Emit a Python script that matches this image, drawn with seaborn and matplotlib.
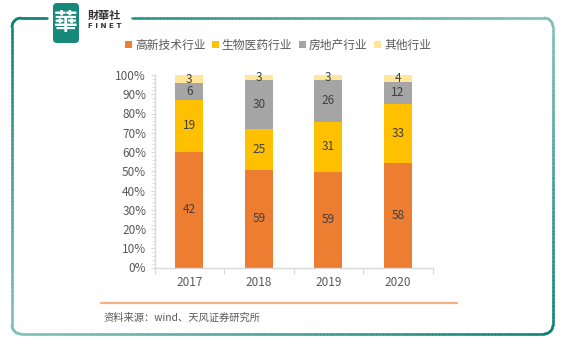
import numpy as np
import pandas as pd
import matplotlib
matplotlib.use("Agg")
import matplotlib.pyplot as plt
import seaborn as sns
from matplotlib.patches import FancyBboxPatch, Patch
from matplotlib.collections import LineCollection
from matplotlib.ticker import MultipleLocator, FuncFormatter

# ---- data -------------------------------------------------------------
years = ["2017", "2018", "2019", "2020"]
industries = ["高新技术行业", "生物医药行业", "房地产行业", "其他行业"]
high_tech = [42, 59, 59, 58]
biomed = [19, 25, 31, 33]
real_estate = [6, 30, 26, 12]
others = [3, 3, 3, 4]
colors = ["#ED7D31", "#FFC000", "#A5A5A5", "#FFE699"]
source_note = "资料来源：wind、天风证券研究所"

counts = pd.DataFrame(
    {name: vals for name, vals in zip(industries, [high_tech, biomed, real_estate, others])},
    index=years,
)
shares = counts.div(counts.sum(axis=1), axis=0) * 100
tops = shares.cumsum(axis=1)
bottoms = tops - shares

# ---- style ------------------------------------------------------------
sns.set_theme(style="white")
plt.rcParams["font.family"] = ["Noto Sans CJK SC", "DejaVu Sans"]
TXT = "#595959"

W, H = 563, 346
fig = plt.figure(figsize=(W / 100, H / 100), dpi=100)
fig.patch.set_facecolor("white")

# pixel-space canvas for the card frame, logo and footer
bg = fig.add_axes([0, 0, 1, 1], zorder=0)
bg.set_xlim(0, W)
bg.set_ylim(H, 0)
bg.axis("off")


def frame_points(x0, y0, x1, y1, r, gap0, gap1):
    pts = []
    pts += [(x, y0) for x in np.linspace(gap1, x1 - r, 120)]
    t = np.linspace(-np.pi / 2, 0, 20)
    pts += list(zip(x1 - r + r * np.cos(t), y0 + r + r * np.sin(t)))
    pts += [(x1, y) for y in np.linspace(y0 + r, y1 - r, 80)]
    t = np.linspace(0, np.pi / 2, 20)
    pts += list(zip(x1 - r + r * np.cos(t), y1 - r + r * np.sin(t)))
    pts += [(x, y1) for x in np.linspace(x1 - r, x0 + r, 160)]
    t = np.linspace(np.pi / 2, np.pi, 20)
    pts += list(zip(x0 + r + r * np.cos(t), y1 - r + r * np.sin(t)))
    pts += [(x0, y) for y in np.linspace(y1 - r, y0 + r, 80)]
    t = np.linspace(np.pi, 1.5 * np.pi, 20)
    pts += list(zip(x0 + r + r * np.cos(t), y0 + r + r * np.sin(t)))
    pts += [(x, y0) for x in np.linspace(x0 + r, gap0, 20)]
    return np.array(pts)


fx0, fy0, fx1, fy1 = 12, 18, 553, 334
pts = frame_points(fx0, fy0, fx1, fy1, 9, 47, 132)
segs = np.stack([pts[:-1], pts[1:]], axis=1)
mid = segs.mean(axis=1)
xn = (mid[:, 0] - fx0) / (fx1 - fx0)
yn = (mid[:, 1] - fy0) / (fy1 - fy0)
light = np.clip(np.abs(xn - yn), 0, 1) * 0.75
dark = np.array(matplotlib.colors.to_rgb("#0E8276"))
pale = np.array(matplotlib.colors.to_rgb("#A8D8D5"))
seg_colors = dark[None, :] * (1 - light[:, None]) + pale[None, :] * light[:, None]
bg.add_collection(LineCollection(segs, colors=seg_colors, linewidths=1.8, capstyle="round"))

# logo
bg.add_patch(FancyBboxPatch((53, 3), 26, 40, boxstyle="round,pad=0,rounding_size=4",
                            facecolor="#16897A", edgecolor="none"))
bg.text(66, 23.5, "華", color="white", fontsize=17, ha="center", va="center",
        family=["Noto Sans CJK TC", "DejaVu Sans"], fontweight="bold")
bg.text(88, 15, "財華社", color="#333333", fontsize=8, ha="left", va="center",
        family=["Noto Sans CJK TC", "DejaVu Sans"], fontweight="bold")
bg.text(88, 25.5, "F I N E T", color="#333333", fontsize=5.2, ha="left", va="center",
        fontweight="bold", family=["DejaVu Sans"])

# footer rule and source
bg.plot([100, 458], [302.5, 302.5], color="#F4B183", lw=1.6, solid_capstyle="butt")
bg.text(103, 318, source_note, color=TXT, fontsize=7.4, ha="left", va="center")

# ---- stacked 100% bars ------------------------------------------------
ax = fig.add_axes([154.5 / W, (H - 267.5) / H, 278 / W, 192.5 / H], zorder=2)
ax.set_facecolor("none")

# draw cumulative heights from the top layer down so each lower layer covers the rest
for k in reversed(range(len(industries))):
    sns.barplot(x=years, y=tops[industries[k]].values, order=years, color=colors[k],
                saturation=1, width=0.4, linewidth=0, ax=ax)

for k, name in enumerate(industries):
    for i, yr in enumerate(years):
        ax.text(i, bottoms.loc[yr, name] + shares.loc[yr, name] / 2, str(counts.loc[yr, name]),
                ha="center", va="center", color="#404040", fontsize=8.5)

ax.set_xlim(-0.5, len(years) - 0.5)
ax.set_ylim(0, 100)
ax.set_xlabel("")
ax.set_ylabel("")
ax.yaxis.set_major_locator(MultipleLocator(10))
ax.yaxis.set_minor_locator(MultipleLocator(2))
ax.yaxis.set_major_formatter(FuncFormatter(lambda v, _: f"{v:.0f}%"))
ax.set_xticks(np.arange(-0.5, len(years), 1.0), minor=True)

for side in ("top", "right"):
    ax.spines[side].set_visible(False)
for side in ("left", "bottom"):
    ax.spines[side].set_color("#D9D9D9")
    ax.spines[side].set_linewidth(1.0)

ax.tick_params(axis="y", which="major", length=3, width=0.8, color="#D9D9D9",
               labelsize=8.5, labelcolor=TXT, pad=3, left=True)
ax.tick_params(axis="y", which="minor", length=2, width=0.6, color="#D9D9D9", left=True)
ax.tick_params(axis="x", which="major", length=0, labelsize=8.5, labelcolor=TXT, pad=6)
ax.tick_params(axis="x", which="minor", length=4, width=0.8, color="#D9D9D9", bottom=True)
ax.grid(False)

# legend
handles = [Patch(facecolor=c, edgecolor="none", label=n) for c, n in zip(colors, industries)]
fig.legend(handles=handles, loc="center", bbox_to_anchor=(278 / W, 1 - 45 / H), ncol=4,
           frameon=False, fontsize=8.5, handlelength=0.6, handleheight=0.6,
           handletextpad=0.25, columnspacing=0.55, labelcolor=TXT, borderaxespad=0)

fig.savefig("out.png", dpi=100, facecolor="white")
